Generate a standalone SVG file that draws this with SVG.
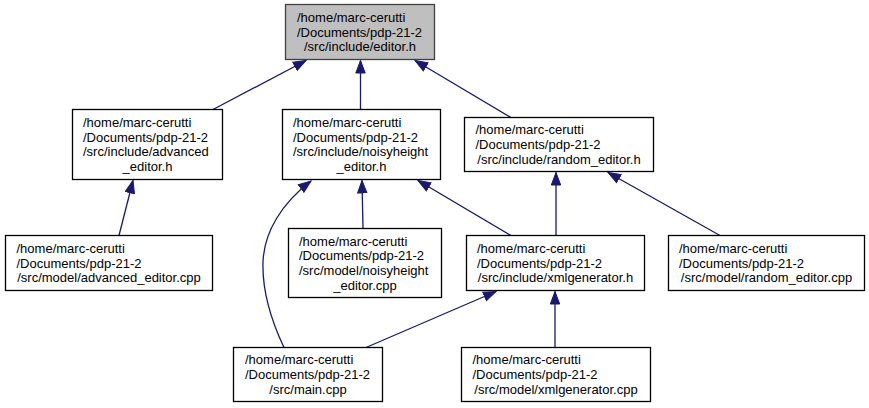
<svg xmlns="http://www.w3.org/2000/svg" width="869" height="408" viewBox="0 0 869 408">
<style>
.n rect{fill:#ffffff;stroke:#000000;stroke-width:1.3}
.n.root rect{fill:#bfbfbf;stroke:#404040}
.n text{font-family:"Liberation Sans",Arial,Helvetica,sans-serif;font-size:13px;fill:#000000}
.n text.c{text-anchor:middle}
.e path{fill:none;stroke:#191970;stroke-width:1.3}
</style>
<defs>
<marker id="ah" markerUnits="userSpaceOnUse" markerWidth="14" markerHeight="11" viewBox="0 0 14 11" refX="13" refY="5.5" orient="auto">
<path d="M0.5,0.8 L13,5.5 L0.5,10.2 z" fill="#191970" stroke="#191970" stroke-width="1"/>
</marker>
</defs>
<rect width="869" height="408" fill="#ffffff"/>
<g class="e" id="edges">
<path d="M213,109.5 L306,60.5" marker-end="url(#ah)"/>
<path d="M360.5,109.5 L360.5,60.5" marker-end="url(#ah)"/>
<path d="M511,117.5 L415,60.5" marker-end="url(#ah)"/>
<path d="M119,235.5 L133,180.5" marker-end="url(#ah)"/>
<path d="M363,228.5 L362,180.5" marker-end="url(#ah)"/>
<path d="M511,235.5 L418,180.5" marker-end="url(#ah)"/>
<path d="M284,347.5 C272,322 262,292 263,262 C264,232 282,203 311,181" marker-end="url(#ah)"/>
<path d="M556,235.5 L556,172.5" marker-end="url(#ah)"/>
<path d="M720,235.5 L608,172.5" marker-end="url(#ah)"/>
<path d="M366,347.5 L496,291.5" marker-end="url(#ah)"/>
<path d="M555,347.5 L555,291.5" marker-end="url(#ah)"/>
</g>
<g class="n root" id="editor_h">
<rect x="285.5" y="4.5" width="149" height="55"/>
<text x="297" y="21.8">/home/marc-cerutti</text>
<text x="297" y="36.5">/Documents/pdp-21-2</text>
<text class="c" x="360" y="51.2">/src/include/editor.h</text>
</g>
<g class="n" id="advanced_editor_h">
<rect x="72.5" y="109.5" width="150" height="70"/>
<text x="83" y="127">/home/marc-cerutti</text>
<text x="83" y="141.7">/Documents/pdp-21-2</text>
<text x="83" y="156.4">/src/include/advanced</text>
<text class="c" x="147.5" y="171.1">_editor.h</text>
</g>
<g class="n" id="noisyheight_editor_h">
<rect x="282.5" y="109.5" width="158" height="70"/>
<text x="293" y="127">/home/marc-cerutti</text>
<text x="293" y="141.7">/Documents/pdp-21-2</text>
<text x="293" y="156.4">/src/include/noisyheight</text>
<text class="c" x="361.5" y="171.1">_editor.h</text>
</g>
<g class="n" id="random_editor_h">
<rect x="464.5" y="117.5" width="189" height="54"/>
<text x="475.5" y="134.3">/home/marc-cerutti</text>
<text x="475.5" y="149">/Documents/pdp-21-2</text>
<text class="c" x="559" y="163.7">/src/include/random_editor.h</text>
</g>
<g class="n" id="advanced_editor_cpp">
<rect x="5.5" y="235.5" width="207" height="55"/>
<text x="16.5" y="252.8">/home/marc-cerutti</text>
<text x="16.5" y="267.5">/Documents/pdp-21-2</text>
<text class="c" x="109" y="282.2">/src/model/advanced_editor.cpp</text>
</g>
<g class="n" id="noisyheight_editor_cpp">
<rect x="288.5" y="228.5" width="153" height="69"/>
<text x="299" y="245.5">/home/marc-cerutti</text>
<text x="299" y="260.2">/Documents/pdp-21-2</text>
<text x="299" y="274.9">/src/model/noisyheight</text>
<text class="c" x="365" y="289.6">_editor.cpp</text>
</g>
<g class="n" id="xmlgenerator_h">
<rect x="466.5" y="235.5" width="178" height="55"/>
<text x="477" y="252.8">/home/marc-cerutti</text>
<text x="477" y="267.5">/Documents/pdp-21-2</text>
<text class="c" x="555.5" y="282.2">/src/include/xmlgenerator.h</text>
</g>
<g class="n" id="random_editor_cpp">
<rect x="668.5" y="235.5" width="196" height="55"/>
<text x="679" y="252.8">/home/marc-cerutti</text>
<text x="679" y="267.5">/Documents/pdp-21-2</text>
<text class="c" x="766.5" y="282.2">/src/model/random_editor.cpp</text>
</g>
<g class="n" id="main_cpp">
<rect x="233.5" y="347.5" width="149" height="54"/>
<text x="245" y="364.3">/home/marc-cerutti</text>
<text x="245" y="379">/Documents/pdp-21-2</text>
<text class="c" x="308" y="393.7">/src/main.cpp</text>
</g>
<g class="n" id="xmlgenerator_cpp">
<rect x="461.5" y="347.5" width="189" height="54"/>
<text x="472.5" y="364.3">/home/marc-cerutti</text>
<text x="472.5" y="379">/Documents/pdp-21-2</text>
<text class="c" x="556" y="393.7">/src/model/xmlgenerator.cpp</text>
</g>
</svg>
